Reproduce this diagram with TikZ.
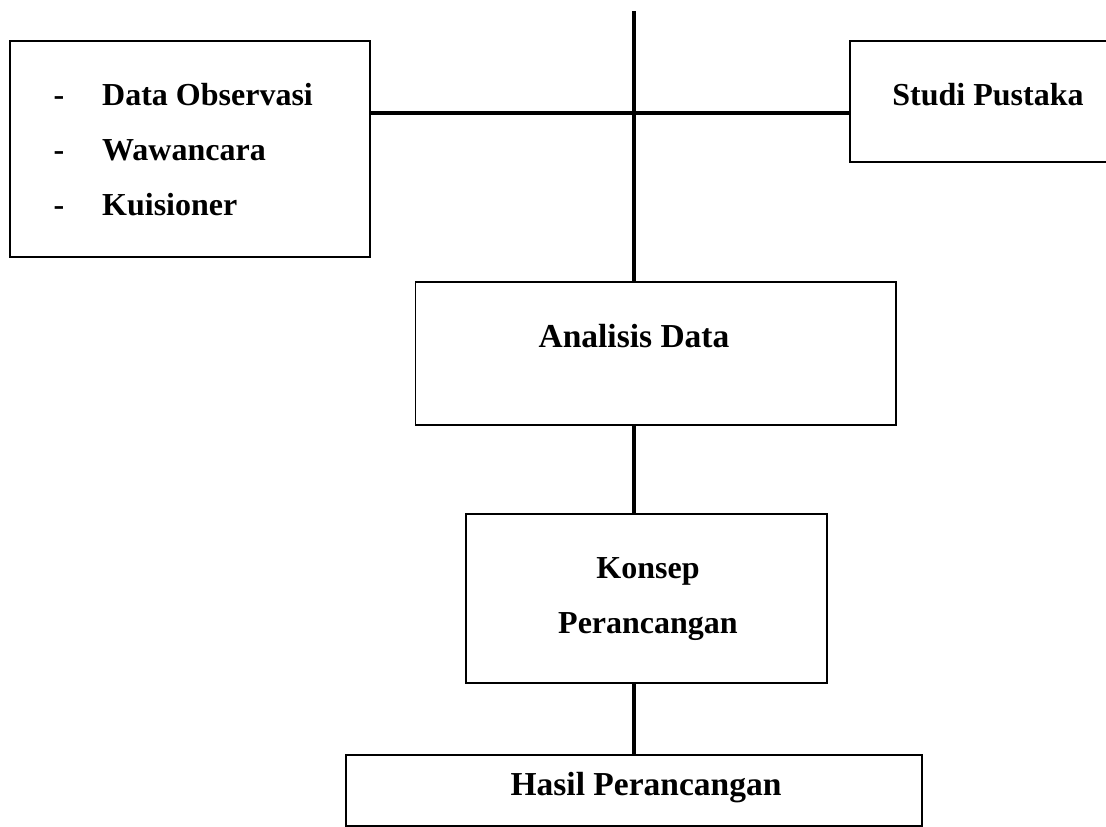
\documentclass[tikz,border=0pt]{standalone}
\usepackage{fontspec}
\setmainfont{Liberation Serif}
\begin{document}
\begin{tikzpicture}[x=1pt,y=-1pt,
  box/.style={draw=black,line width=1.8pt,rectangle,inner sep=0pt},
  conn/.style={draw=black,line width=4.8pt},
  lbl/.style={inner sep=0pt,font=\fontsize{32}{38}\selectfont\bfseries},
  lblc/.style={inner sep=0pt,font=\fontsize{33.5}{40}\selectfont\bfseries}]
\path[clip] (0,0) rectangle (1106,827);
% boxes
\node[box,minimum width=360pt,minimum height=216pt] (lb) at (190,149) {};
\node[box,minimum width=276pt,minimum height=121pt] (sp) at (988,101.5) {};
\node[box,minimum width=480.5pt,minimum height=143pt] (ad) at (655.75,353.5) {};
\node[box,minimum width=361pt,minimum height=169pt] (kp) at (646.5,598.5) {};
\node[box,minimum width=576pt,minimum height=71pt] (hp) at (634,790.5) {};
% texts
\node[lbl,anchor=base] (d1) at (59,105) {-};
\node[lbl,anchor=base] (d2) at (59,160) {-};
\node[lbl,anchor=base] (d3) at (59,215) {-};
\node[lbl,anchor=base west] (t1) at (102,105) {Data Observasi};
\node[lbl,anchor=base west] (t2) at (102,160) {Wawancara};
\node[lbl,anchor=base west] (t3) at (102,215) {Kuisioner};
\node[lbl,anchor=base] (t4) at (988,105) {Studi Pustaka};
\node[lblc,anchor=base] (t5) at (634,347) {Analisis Data};
\node[lbl,anchor=base] (t6) at (648,578) {Konsep};
\node[lbl,anchor=base] (t7) at (648,633) {Perancangan};
\node[lblc,anchor=base] (t8) at (646,795) {Hasil Perancangan};
% connectors
\coordinate (top) at (634,11);
\coordinate (cross) at (634,113);
\draw[conn] (top) -- (top |- ad.north);
\draw[conn] (cross -| lb.east) -- (cross -| sp.west);
\draw[conn] (top |- ad.south) -- (top |- kp.north);
\draw[conn] (top |- kp.south) -- (top |- hp.north);
\end{tikzpicture}
\end{document}
